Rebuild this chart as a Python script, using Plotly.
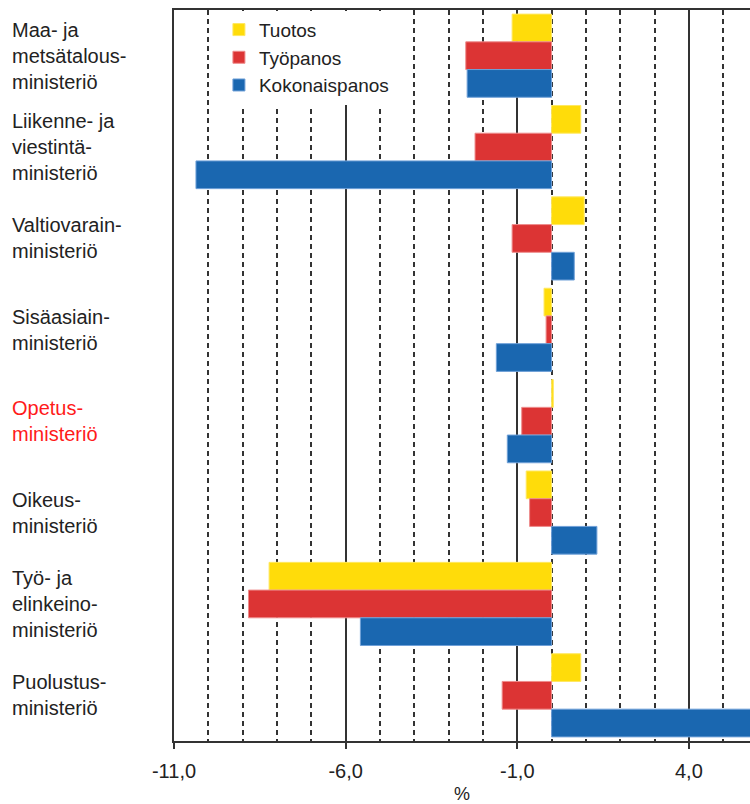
import plotly.graph_objects as go

categories = [
    "Maa- ja<br>metsätalous-<br>ministeriö",
    "Liikenne- ja<br>viestintä-<br>ministeriö",
    "Valtiovarain-<br>ministeriö",
    "Sisäasiain-<br>ministeriö",
    "Opetus-<br>ministeriö",
    "Oikeus-<br>ministeriö",
    "Työ- ja<br>elinkeino-<br>ministeriö",
    "Puolustus-<br>ministeriö",
]
label_colors = ["#222", "#222", "#222", "#222", "#FF1A1A", "#222", "#222", "#222"]

tuotos = [-1.15, 0.85, 0.95, -0.22, 0.05, -0.74, -8.23, 0.85]
tyopanos = [-2.5, -2.23, -1.15, -0.16, -0.87, -0.64, -8.83, -1.44]
kokonaispanos = [-2.46, -10.36, 0.66, -1.61, -1.29, 1.32, -5.57, 6.4]

series_names = ["Tuotos", "Työpanos", "Kokonaispanos"]
series_values = [tuotos, tyopanos, kokonaispanos]
series_colors = ["#FFDC0A", "#DC3434", "#1A67B0"]
edge_colors = ["#FFE860", "#EE8C8C", "#6FA0D8"]

tick_vals = [-11, -6, -1, 4]
tick_text = ["-11,0", "-6,0", "-1,0", "4,0"]

FONT = "Liberation Sans, Arial, sans-serif"
TXT = "#222222"

fig = go.Figure()
for name, vals, col, edge in zip(series_names, series_values, series_colors, edge_colors):
    fig.add_trace(go.Bar(
        y=categories, x=vals, name=name, orientation="h",
        marker=dict(color=col, line=dict(color=edge, width=1)),
    ))

for cat, col in zip(categories, label_colors):
    fig.add_annotation(
        xref="paper", yref="y", x=-0.285, y=cat, text=cat,
        xanchor="left", yanchor="middle", align="left", showarrow=False,
        font=dict(family=FONT, size=20, color=col),
    )

fig.update_layout(
    width=750, height=804,
    margin=dict(l=174, r=0, t=10, b=63),
    paper_bgcolor="white", plot_bgcolor="white",
    barmode="group", bargap=0.09, bargroupgap=0,
    font=dict(family=FONT, size=20, color=TXT),
    showlegend=True,
    legend=dict(
        x=0.078, y=0.999, xanchor="left", yanchor="top",
        bgcolor="white", borderwidth=0,
        font=dict(family=FONT, size=19, color=TXT),
        traceorder="normal", tracegroupgap=0,
    ),
    xaxis=dict(
        range=[-11, 5.78],
        automargin=False,
        tickmode="array", tickvals=tick_vals, ticktext=tick_text,
        ticks="outside", ticklen=6, tickwidth=2, tickcolor="#333",
        ticklabelstandoff=5,
        showgrid=True, gridcolor="#333", gridwidth=2,
        minor=dict(tickmode="linear", tick0=-11, dtick=1, showgrid=True,
                   gridcolor="#333", gridwidth=2, griddash="5px,4px", ticks=""),
        zeroline=False,
        showline=True, linecolor="#333", linewidth=2, mirror=True,
        tickfont=dict(family=FONT, size=20, color=TXT),
        title=dict(text="%", font=dict(family=FONT, size=18, color=TXT), standoff=15),
        fixedrange=True,
    ),
    yaxis=dict(
        autorange="reversed",
        automargin=False,
        showticklabels=False, ticks="",
        showgrid=False, zeroline=False,
        showline=True, linecolor="#333", linewidth=2,
        fixedrange=True,
    ),
)

fig.write_html(
    "out.html",
    config={"displayModeBar": False, "staticPlot": True},
    post_script="document.body.style.margin='0';document.body.style.overflow='hidden';",
)
